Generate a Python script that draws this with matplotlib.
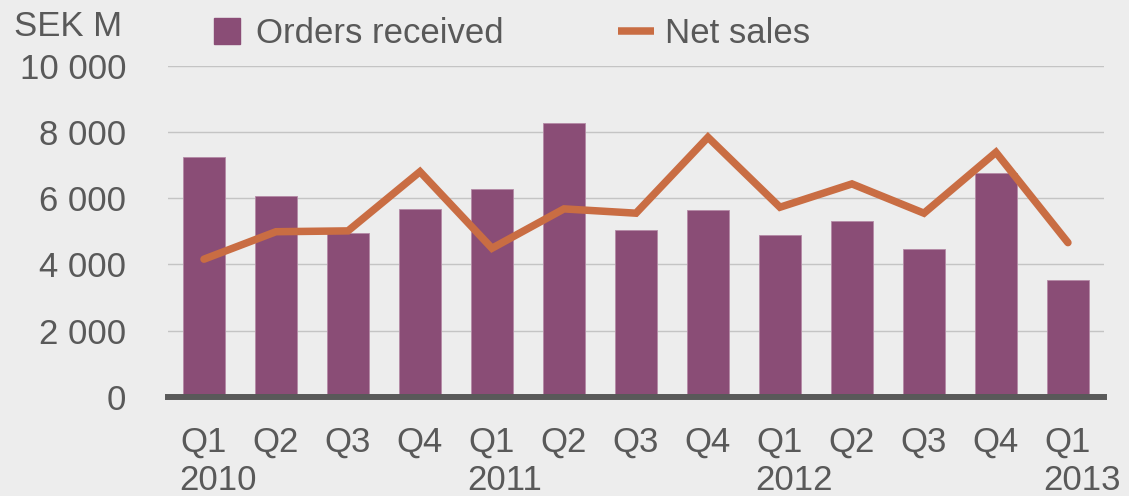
import numpy as np
import matplotlib.pyplot as plt
from matplotlib.lines import Line2D

plt.rcParams['font.family'] = ['Liberation Sans', 'DejaVu Sans']

quarters = ['Q1', 'Q2', 'Q3', 'Q4', 'Q1', 'Q2', 'Q3', 'Q4', 'Q1', 'Q2', 'Q3', 'Q4', 'Q1']
years = {0: '2010', 4: '2011', 8: '2012', 12: '2013'}
orders = [7250, 6080, 4945, 5670, 6275, 8270, 5045, 5640, 4905, 5315, 4460, 6760, 3525]
net_sales = [4160, 4990, 5015, 6805, 4490, 5680, 5550, 7845, 5730, 6435, 5550, 7390, 4660]

bg = '#EDEDED'
txt = '#595959'
purple = '#8A4D76'
orange = '#C96D43'
fs = 25

fig = plt.figure(figsize=(11.29, 4.96), dpi=100, facecolor=bg)
ax = fig.add_axes([0.1488, 0.2, 0.829, 0.667], facecolor=bg)

x = np.arange(len(quarters))
ax.bar(x, orders, width=0.59, color=purple, edgecolor='#B48AA6', linewidth=0.6, zorder=2)
ax.plot(x, net_sales, color=orange, lw=5.4, solid_joinstyle='miter', solid_capstyle='round', zorder=3)

ax.set_xlim(-0.5, len(quarters) - 0.5)
ax.set_ylim(0, 10000)
ax.set_yticks(np.arange(0, 10001, 2000))
ax.set_yticklabels(['0', '2 000', '4 000', '6 000', '8 000', '10 000'])
ax.yaxis.grid(True, color='#C4C4C4', lw=1.0, zorder=0)
ax.set_axisbelow(True)

for s in ['top', 'right', 'left']:
    ax.spines[s].set_visible(False)
ax.spines['bottom'].set_color('#595959')
ax.spines['bottom'].set_linewidth(4.3)
ax.spines['bottom'].set_zorder(4)

ax.set_xticks(x)
ax.set_xticklabels(quarters)
ax.tick_params(axis='both', length=0, labelsize=fs, colors=txt)
ax.tick_params(axis='y', pad=30)
ax.tick_params(axis='x', pad=21)

for i, yr in years.items():
    ax.annotate(yr, xy=(i, 0), xycoords=('data', 'axes fraction'),
                xytext=(-18, -60), textcoords='offset points',
                ha='left', va='center', fontsize=fs, color=txt)

fig.text(0.108, 0.946, 'SEK M', ha='right', va='center', fontsize=fs, color=txt)

handles = [Line2D([], [], marker='s', markersize=18.5, linestyle='none', color=purple),
           Line2D([], [], color=orange, lw=5.4, solid_capstyle='butt')]
fig.legend(handles, ['Orders received', 'Net sales'], loc='center left',
           bbox_to_anchor=(0.185, 0.933), ncol=2, frameon=False, fontsize=fs,
           labelcolor=txt, borderpad=0, borderaxespad=0, handlelength=1.05,
           handletextpad=0.3, columnspacing=3.3)

fig.savefig('out.png', dpi=100, facecolor=bg)
